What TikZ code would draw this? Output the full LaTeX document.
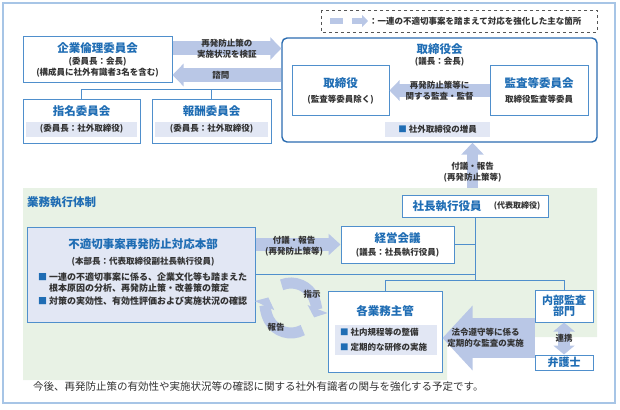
\documentclass[tikz,border=0pt]{standalone}
\usepackage{fontspec}
\setmainfont{Noto Sans CJK JP}
\usepackage{tikz}
\usetikzlibrary{calc,arrows.meta}
\definecolor{outerline}{HTML}{A7C5E6}
\definecolor{boxline}{HTML}{4F8FCC}
\definecolor{boardline}{HTML}{2B6CB0}
\definecolor{ttlblue}{HTML}{1F6DB4}
\definecolor{arw}{HTML}{B9C7E6}
\definecolor{lav}{HTML}{E2E7F4}
\definecolor{execbg}{HTML}{E8F2E5}
\definecolor{txt}{HTML}{333333}
\definecolor{legline}{HTML}{555555}
\newcommand{\bsq}{\textcolor{ttlblue}{■}\hspace{2pt}}
\tikzset{
  box/.style={draw=boxline, line width=1pt, fill=white, inner sep=0pt},
  board/.style={draw=boardline, line width=1.4pt, rounded corners=5pt, inner sep=0pt},
  lite/.style={fill=lav, draw=none, inner sep=0pt},
  ttl/.style={text=ttlblue, font=\bfseries\fontsize{11.5}{11.5}\selectfont, inner sep=0pt, align=center},
  sub/.style={text=txt, font=\bfseries\fontsize{8.5}{11}\selectfont, inner sep=0pt, align=center},
  bul/.style={text=txt, font=\bfseries\fontsize{9}{11}\selectfont, inner sep=0pt, anchor=west},
  conn/.style={draw=boxline, line width=1pt},
  barrow/.style={draw=arw, line width=14pt, -{Triangle[length=11pt,width=22pt]}},
  bigarrow/.style={draw=arw, line width=40pt, -{Triangle[length=30pt,width=63pt]}},
  ring/.style={draw=arw, line width=11pt, -{Triangle[length=9pt,width=21pt]}}
}
\begin{document}
\begin{tikzpicture}[x=1pt, y=-1pt]
  \useasboundingbox (0,0) rectangle (620,409);
  \draw[outerline, line width=1.2pt] (3,3) rectangle (615,403);

  % legend
  \draw[legline, dashed, line width=0.8pt] (321,10) rectangle (597,32);
  \fill[arw] (330,18) rectangle (343,24);
  \coordinate (lg1) at (352,21);
  \coordinate (lg2) at (368,21);
  \draw[draw=arw, line width=6pt, -{Triangle[length=6pt,width=12pt]}] (lg1) -- (lg2);
  \node[sub, anchor=west] (legtxt) at (369,21) {：一連の不適切事案を踏まえて対応を強化した主な箇所};

  % execution area
  \fill[execbg] (23,188) -- (597,188) -- (597,337) -- (447,337) -- (447,380) -- (23,380) -- cycle;
  \node[ttl, anchor=west] (gyomu) at (27,202) {業務執行体制};

  % board of directors
  \node[board, minimum width=315pt, minimum height=104pt] (tb) at (439.5,90) {};
  \node[ttl] (tbt) at ($(tb.north)+(0,12)$) {取締役会};
  \node[sub] (tbs) at ($(tb.north)+(0,24.5)$) {(議長：会長)};
  \node[box, minimum width=97pt, minimum height=49pt] (tori) at (340.5,90.5) {};
  \node[ttl] at ($(tori.north)+(0,18)$) {取締役};
  \node[sub] at ($(tori.north)+(0,34)$) {(監査等委員除く)};
  \node[box, minimum width=98pt, minimum height=49pt] (kansa) at (539,90.5) {};
  \node[ttl] at ($(kansa.north)+(0,18)$) {監査等委員会};
  \node[sub] at ($(kansa.north)+(0,34)$) {取締役監査等委員};
  \node[lite, minimum width=105pt, minimum height=15pt] (zoin) at (437.5,129.5) {};
  \node[sub] at (zoin) {\bsq 社外取締役の増員};

  % committees
  \node[box, minimum width=149pt, minimum height=46pt] (rinri) at (97.5,60) {};
  \node[ttl] at ($(rinri.north)+(0,12)$) {企業倫理委員会};
  \node[sub] at ($(rinri.north)+(0,31)$) {(委員長：会長)\\(構成員に社外有識者3名を含む)};
  \node[box, minimum width=117pt, minimum height=43pt] (shimei) at (81.5,121.5) {};
  \node[ttl] at ($(shimei.north)+(0,12)$) {指名委員会};
  \node[lite, minimum width=111pt, minimum height=15pt] (shimeis) at ($(shimei.north)+(0,29.5)$) {};
  \node[sub] at (shimeis) {(委員長：社外取締役)};
  \node[box, minimum width=119pt, minimum height=43pt] (hoshu) at (211.5,121.5) {};
  \node[ttl] at ($(hoshu.north)+(0,12)$) {報酬委員会};
  \node[lite, minimum width=113pt, minimum height=15pt] (hoshus) at ($(hoshu.north)+(0,29.5)$) {};
  \node[sub] at (hoshus) {(委員長：社外取締役)};

  \draw[conn] (shimei.north) |- (tb.west);
  \draw[conn] (hoshu.north) |- (tb.west);

  \draw[barrow] ([yshift=11.5pt]rinri.east) -- ([yshift=11.5pt]rinri.east -| tb.west)
    node[sub, midway] {再発防止策の\\実施状況を検証};
  \draw[barrow] ([yshift=-15pt]rinri.east -| tb.west) -- ([yshift=-15pt]rinri.east)
    node[sub, midway, xshift=-6pt] {諮問};
  \draw[barrow, line width=13pt, -{Triangle[length=10pt,width=20pt]}] (kansa.west) -- (tori.east)
    node[sub, midway] {再発防止策等に\\関する監査・監督};

  % execution side
  \node[box, minimum width=146pt, minimum height=22pt] (shacho) at (475,206) {};
  \node[ttl] at ($(shacho.center)+(-28,0)$) {社長執行役員};
  \node[sub, font=\bfseries\fontsize{8}{10}\selectfont] at ($(shacho.center)+(42,0)$) {(代表取締役)};
  \draw[barrow, line width=11pt, -{Triangle[length=12pt,width=22pt]}]
    ($(shacho.north)+(-2.5,-7)$) -- ($(shacho.north |- tb.south)+(-2.5,0)$)
    node[sub, pos=0.34] {付議・報告\\(再発防止策等)};

  \node[box, minimum width=113pt, minimum height=37pt] (keiei) at (397.5,244.5) {};
  \node[ttl] at ($(keiei.north)+(0,13)$) {経営会議};
  \node[sub] at ($(keiei.north)+(0,27)$) {(議長：社長執行役員)};

  \node[box, fill=lav, minimum width=228pt, minimum height=95pt] (honbu) at (141,274.5) {};
  \node[ttl] at ($(honbu.north)+(2,18)$) {不適切事案再発防止対応本部};
  \node[sub] at ($(honbu.north)+(2,35)$) {(本部長：代表取締役副社長執行役員)};
  \node[bul] at (38,277) {\bsq 一連の不適切事案に係る、企業文化等も踏まえた};
  \node[bul] at (49,288) {根本原因の分析、再発防止策・改善策の策定};
  \node[bul] at (38,301) {\bsq 対策の実効性、有効性評価および実施状況の確認};

  \draw[barrow, line width=13pt, -{Triangle[length=12pt,width=21pt]}] (honbu.east |- keiei.west) -- (keiei.west)
    node[sub, midway, xshift=-4pt, yshift=-2pt] {付議・報告\\(再発防止策等)};

  \node[box, minimum width=114pt, minimum height=81pt] (kaku) at (385,331.5) {};
  \node[ttl] at ($(kaku.north)+(0,21)$) {各業務主管};
  \node[lite, minimum width=102pt, minimum height=30pt] (kakus) at ($(kaku.north)+(1,49)$) {};
  \node[bul, font=\bfseries\fontsize{8.5}{11}\selectfont] at (340,332) {\bsq 社内規程等の整備};
  \node[bul, font=\bfseries\fontsize{8.5}{11}\selectfont] at (340,347) {\bsq 定期的な研修の実施};

  \node[box, minimum width=58pt, minimum height=32pt] (naibu) at (564,306) {};
  \node[ttl, font=\bfseries\fontsize{11}{11}\selectfont] at (naibu) {内部監査\\部門};
  \node[box, minimum width=58pt, minimum height=15pt] (bengo) at (564,362.5) {};
  \node[ttl, font=\bfseries\fontsize{11}{11}\selectfont] at (bengo) {弁護士};

  % connectors
  \coordinate (jn) at (475,280);
  \draw[conn] (shacho.south) -- (jn);
  \draw[conn] (keiei.east) -| (jn);
  \draw[conn] (honbu.east) -| (jn);
  \draw[conn] (kaku.north) |- (jn);
  \draw[conn] (naibu.north) |- (jn);

  \draw[bigarrow] ($(naibu.west |- kaku.east)+(0,6.5)$) -- ($(kaku.east)+(0,6.5)$)
    node[sub, midway, xshift=-3pt] {法令遵守等に係る\\定期的な監査の実施};
  \draw[draw=arw, line width=12pt, {Triangle[length=9pt,width=21pt]}-{Triangle[length=9pt,width=21pt]}] (naibu.south) -- (bengo.north)
    node[sub, midway] {連携};

  % instruction / report cycle
  \coordinate (rc) at (291,308);
  \draw[ring] ($(rc)+(-112:25)$) arc[start angle=-112, end angle=22, radius=25];
  \draw[ring] ($(rc)+(62:25)$) arc[start angle=62, end angle=205, radius=25];
  \node[sub] (shiji) at (312,294) {指示};
  \node[sub] (hokoku) at (276,327) {報告};

  \node[anchor=west, text=txt, font=\fontsize{10.5}{12}\selectfont, inner sep=0pt] (note) at (33,387)
    {今後、再発防止策の有効性や実施状況等の確認に関する社外有識者の関与を強化する予定です。};
\end{tikzpicture}
\end{document}
